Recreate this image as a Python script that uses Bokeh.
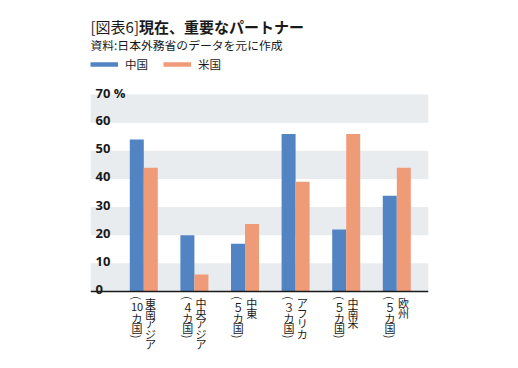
import math
import numpy as np
from bokeh.plotting import figure
from bokeh.models import (Range1d, BoxAnnotation, Label, Legend, LegendItem, Span,
                          ColumnDataSource)
from bokeh.transform import dodge
from bokeh.core.properties import value
from bokeh.embed import file_html
from bokeh.resources import INLINE

# ---- data ----
regions = ["東南アジア", "中央アジア", "中東", "アフリカ", "中南米", "欧州"]
counts = [10, 4, 5, 3, 5, 5]
china = [54, 20, 17, 56, 22, 34]
usa = [44, 6, 24, 39, 56, 44]
series_names = ["中国", "米国"]
yticks = [0, 10, 20, 30, 40, 50, 60, 70]
ytick_labels = ["0", "10", "20", "30", "40", "50", "60", "70 %"]
title_tag = "[図表6]"
title_main = "現在、重要なパートナー"
subtitle = "資料:日本外務省のデータを元に作成"

BLUE = "#5284c4"
ORANGE = "#f09b78"
BAND = "#e9ecef"
INK = "#1a1a1a"
JP = "Noto Sans CJK JP"

# ---- layout (pixels) ----
W, H = 518, 368
FX0, FX1 = 90, 428          # band / axis extent
Y0_PX, PX_PER_10 = 291, 28.14
X0_PX, PX_PER_CAT = 143.3, 50.6
x_start = (FX0 - X0_PX) / PX_PER_CAT
x_end = (FX1 - X0_PX) / PX_PER_CAT
y_top = Y0_PX / PX_PER_10 * 10
y_bot = -(H - Y0_PX) / PX_PER_10 * 10

idx = list(range(len(regions)))
src = ColumnDataSource(dict(idx=idx, china=china, usa=usa))

p = figure(width=W, height=H, output_backend="svg", toolbar_location=None,
           x_range=Range1d(x_start, x_end), y_range=Range1d(y_bot, y_top),
           min_border_left=FX0, min_border_right=W - FX1, min_border_top=0,
           min_border_bottom=0)
p.outline_line_color = None
p.grid.visible = False
p.axis.visible = False

# bands
for b, t in zip(yticks[0::2], yticks[1::2]):
    p.add_layout(BoxAnnotation(bottom=b, top=t, fill_color=BAND, fill_alpha=1,
                               line_color=None, level="underlay"))

bw = 14 / PX_PER_CAT
p.vbar(x=dodge("idx", -bw / 2, range=p.x_range), top="china", width=bw, bottom=0,
       source=src, fill_color=BLUE, line_color=None)
p.vbar(x=dodge("idx", bw / 2, range=p.x_range), top="usa", width=bw, bottom=0,
       source=src, fill_color=ORANGE, line_color=None)

# baseline
p.add_layout(Span(location=0, dimension="width", line_color=INK, line_width=1.5))

# y tick labels inside the plot
p.text(x=[x_start] * len(yticks), y=yticks, text=ytick_labels,
       x_offset=5, y_offset=-2, text_baseline="alphabetic", text_align="left",
       text_font=value("Open Sans"), text_font_style="bold", text_font_size="13px",
       text_color=INK)

# category labels, written vertically: name column on the right, count column on the left
FW = str.maketrans("0123456789", "０１２３４５６７８９")
RIGHT_ROWS = [11.5, 21.6, 31.8, 42.0, 52.2]
LEFT_ROWS = [6.5, 15.5, 26.0, 36.5, 45.0]
lab = dict(x=[], dx=[], dy=[], t=[], a=[])
for i, name, n in zip(idx, regions, counts):
    for k, ch in enumerate(name):
        lab["x"].append(i); lab["dx"].append(6.7); lab["dy"].append(RIGHT_ROWS[k])
        lab["t"].append(ch); lab["a"].append(0.0)
    num = str(n) if n >= 10 else str(n).translate(FW)
    for k, ch in enumerate(["(", num, "カ", "国", ")"]):
        lab["x"].append(i); lab["dx"].append(-6.7); lab["dy"].append(LEFT_ROWS[k])
        lab["t"].append(ch); lab["a"].append(-math.pi / 2 if ch in "()" else 0.0)
lsrc = ColumnDataSource(dict(x=lab["x"], y=[0] * len(lab["x"]), dx=lab["dx"],
                             dy=lab["dy"], t=lab["t"], a=lab["a"]))
p.text(x="x", y="y", text="t", x_offset="dx", y_offset="dy", angle="a", source=lsrc,
       text_align="center", text_baseline="middle", text_font=value(JP),
       text_font_size="11px", text_color=INK)

# legend (proxy lines with no visible data)
nan = np.array([np.nan])
l1 = p.line(x=nan, y=nan, line_color=BLUE, line_width=4.5)
l2 = p.line(x=nan, y=nan, line_color=ORANGE, line_width=4.5)
legend = Legend(items=[LegendItem(label=series_names[0], renderers=[l1]),
                       LegendItem(label=series_names[1], renderers=[l2])],
                orientation="horizontal", location=(0, H - 71.7),
                glyph_width=28, glyph_height=12, label_standoff=7, spacing=15,
                padding=0, margin=0, border_line_color=None, background_fill_alpha=0,
                label_text_font=JP, label_text_font_size="11.5px", label_text_color=INK,
                label_height=16)
p.add_layout(legend, "center")

# titles
p.add_layout(Label(x=0, y=H - 26, x_units="screen", y_units="screen", text=title_tag,
                   text_font=JP, text_font_size="15px", text_baseline="middle",
                   text_color=INK))
p.add_layout(Label(x=48.5, y=H - 26, x_units="screen", y_units="screen", text=title_main,
                   text_font=JP, text_font_size="15px", text_font_style="bold",
                   text_baseline="middle", text_color=INK))
p.add_layout(Label(x=0, y=H - 44, x_units="screen", y_units="screen", text=subtitle,
                   text_font=JP, text_font_size="11.8px", text_baseline="middle",
                   text_color=INK))

open("out.html", "w").write(file_html(p, INLINE))
